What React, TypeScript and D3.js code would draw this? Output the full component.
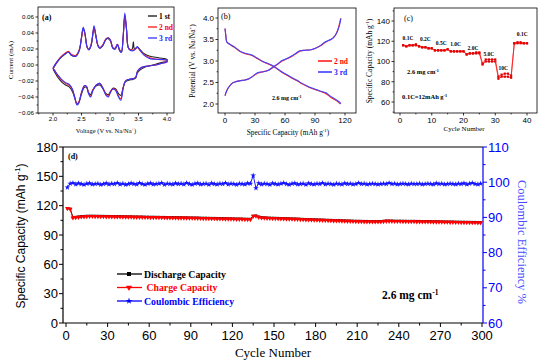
import React, { useEffect, useRef } from 'react';
import * as d3 from 'd3';

const W = 554;
const H = 362;
const SERIF = '"Liberation Serif", "Times New Roman", serif';
const SANS = '"Liberation Sans", Arial, sans-serif';

// (a) cyclic voltammetry, [voltage, current]
const cvBlue: [number, number][] = [
  [2.0, -0.004], [2.05, 0.002], [2.12, 0.008], [2.2, 0.013], [2.27, 0.016], [2.33, 0.012], [2.4, 0.011],
  [2.46, 0.018], [2.5, 0.035], [2.53, 0.047], [2.56, 0.04], [2.6, 0.022], [2.63, 0.019], [2.67, 0.025],
  [2.7, 0.04], [2.72, 0.049], [2.75, 0.038], [2.79, 0.024], [2.82, 0.021], [2.87, 0.024], [2.93, 0.032],
  [2.97, 0.034], [3.01, 0.031], [3.05, 0.021], [3.09, 0.02], [3.13, 0.026], [3.17, 0.018], [3.2, 0.016],
  [3.23, 0.035], [3.26, 0.065], [3.29, 0.045], [3.32, 0.022], [3.36, 0.018], [3.42, 0.018], [3.48, 0.023],
  [3.53, 0.018], [3.6, 0.012], [3.7, 0.008], [3.85, 0.007], [4.0, 0.006],
  [4.0, 0.004], [3.9, 0.002], [3.8, 0.0], [3.7, -0.001], [3.6, -0.002], [3.53, -0.004], [3.48, -0.008],
  [3.45, -0.016], [3.4, -0.017], [3.33, -0.018], [3.27, -0.02], [3.23, -0.03], [3.19, -0.044], [3.15, -0.04],
  [3.1, -0.032], [3.05, -0.03], [3.01, -0.034], [2.97, -0.04], [2.93, -0.038], [2.88, -0.03], [2.82, -0.023],
  [2.76, -0.025], [2.7, -0.032], [2.66, -0.04], [2.62, -0.035], [2.59, -0.027], [2.55, -0.026], [2.5, -0.035],
  [2.45, -0.048], [2.42, -0.05], [2.38, -0.04], [2.34, -0.03], [2.28, -0.024], [2.22, -0.022], [2.15, -0.018],
  [2.08, -0.012], [2.03, -0.007], [2.0, -0.004],
];
const cvRed: [number, number][] = [
  [2.0, -0.004], [2.05, 0.002], [2.12, 0.009], [2.2, 0.014], [2.27, 0.017], [2.33, 0.013], [2.4, 0.012],
  [2.46, 0.019], [2.5, 0.034], [2.53, 0.045], [2.56, 0.039], [2.6, 0.022], [2.63, 0.02], [2.67, 0.026],
  [2.7, 0.039], [2.72, 0.047], [2.75, 0.037], [2.79, 0.024], [2.82, 0.022], [2.87, 0.025], [2.93, 0.033],
  [2.97, 0.034], [3.01, 0.03], [3.05, 0.022], [3.09, 0.021], [3.13, 0.026], [3.17, 0.019], [3.2, 0.017],
  [3.23, 0.034], [3.26, 0.062], [3.29, 0.044], [3.32, 0.022], [3.36, 0.019], [3.42, 0.019], [3.48, 0.022],
  [3.53, 0.018], [3.6, 0.013], [3.7, 0.009], [3.85, 0.007], [4.0, 0.006],
  [4.0, 0.004], [3.9, 0.002], [3.8, 0.0], [3.7, -0.001], [3.6, -0.002], [3.53, -0.004], [3.48, -0.008],
  [3.45, -0.015], [3.4, -0.017], [3.33, -0.018], [3.27, -0.02], [3.23, -0.029], [3.19, -0.042], [3.15, -0.039],
  [3.1, -0.031], [3.05, -0.03], [3.01, -0.033], [2.97, -0.039], [2.93, -0.037], [2.88, -0.029], [2.82, -0.023],
  [2.76, -0.025], [2.7, -0.031], [2.66, -0.039], [2.62, -0.034], [2.59, -0.027], [2.55, -0.026], [2.5, -0.034],
  [2.45, -0.047], [2.42, -0.049], [2.38, -0.04], [2.34, -0.031], [2.28, -0.025], [2.22, -0.023], [2.15, -0.019],
  [2.08, -0.013], [2.03, -0.007], [2.0, -0.004],
];
const cvBlack: [number, number][] = [
  [2.0, -0.005], [2.05, 0.001], [2.12, 0.008], [2.2, 0.013], [2.27, 0.016], [2.33, 0.012], [2.4, 0.011],
  [2.46, 0.018], [2.5, 0.034], [2.53, 0.046], [2.56, 0.039], [2.6, 0.022], [2.63, 0.019], [2.67, 0.025],
  [2.7, 0.039], [2.72, 0.047], [2.75, 0.037], [2.79, 0.024], [2.82, 0.021], [2.87, 0.024], [2.93, 0.032],
  [2.97, 0.033], [3.01, 0.03], [3.05, 0.021], [3.09, 0.02], [3.13, 0.025], [3.17, 0.018], [3.2, 0.016],
  [3.23, 0.034], [3.26, 0.061], [3.29, 0.044], [3.32, 0.022], [3.36, 0.019], [3.39, 0.02], [3.41, 0.029],
  [3.43, 0.02], [3.48, 0.022], [3.53, 0.019], [3.6, 0.014], [3.7, 0.011], [3.85, 0.009], [4.0, 0.007],
  [4.0, 0.005], [3.9, 0.003], [3.8, 0.001], [3.7, -0.001], [3.6, -0.003], [3.53, -0.006], [3.48, -0.01],
  [3.45, -0.016], [3.4, -0.018], [3.33, -0.019], [3.27, -0.021], [3.23, -0.028], [3.19, -0.038], [3.15, -0.036],
  [3.1, -0.03], [3.05, -0.029], [3.01, -0.033], [2.97, -0.037], [2.93, -0.036], [2.88, -0.03], [2.82, -0.025],
  [2.76, -0.026], [2.7, -0.031], [2.66, -0.037], [2.62, -0.034], [2.59, -0.028], [2.55, -0.028], [2.5, -0.036],
  [2.45, -0.047], [2.42, -0.048], [2.38, -0.041], [2.34, -0.033], [2.28, -0.027], [2.22, -0.025], [2.15, -0.021],
  [2.08, -0.015], [2.03, -0.009], [2.0, -0.005],
];

// (b) charge / discharge profiles, [capacity, potential]
const b3Charge: [number, number][] = [
  [0, 2.19], [1, 2.26], [3, 2.36], [5, 2.43], [7, 2.48], [10, 2.51], [15, 2.54], [20, 2.56], [24, 2.59],
  [27, 2.63], [30, 2.69], [33, 2.73], [38, 2.75], [43, 2.78], [48, 2.86], [53, 2.94], [57, 3.01], [62, 3.06],
  [67, 3.12], [71, 3.18], [75, 3.24], [80, 3.25], [86, 3.26], [91, 3.3], [96, 3.37], [100, 3.44], [104, 3.48],
  [108, 3.53], [111, 3.62], [113, 3.72], [115, 3.88], [116, 3.99],
];
const b2Charge: [number, number][] = [
  [0, 2.2], [1, 2.27], [3, 2.37], [5, 2.43], [7, 2.48], [10, 2.51], [15, 2.54], [20, 2.56], [24, 2.59],
  [27, 2.63], [30, 2.68], [33, 2.72], [38, 2.75], [43, 2.78], [48, 2.85], [53, 2.93], [57, 3.0], [62, 3.05],
  [67, 3.11], [71, 3.17], [75, 3.23], [80, 3.25], [86, 3.26], [91, 3.3], [96, 3.36], [100, 3.43], [104, 3.48],
  [108, 3.54], [111, 3.63], [113, 3.74], [114.8, 3.9], [115.6, 3.99],
];
const b3Discharge: [number, number][] = [
  [0, 3.76], [0.8, 3.6], [1.7, 3.45], [4, 3.4], [7, 3.36], [11, 3.3], [15, 3.23], [20, 3.18], [27, 3.14],
  [32, 3.07], [38, 2.99], [45, 2.92], [50, 2.86], [56, 2.76], [62, 2.68], [67, 2.61], [72, 2.55], [77, 2.48],
  [82, 2.42], [87, 2.37], [92, 2.33], [97, 2.29], [101, 2.26], [105, 2.19], [109, 2.13], [113, 2.07], [116, 2.01],
];
const b2Discharge: [number, number][] = [
  [0, 3.75], [0.8, 3.6], [1.7, 3.45], [4, 3.4], [7, 3.35], [11, 3.29], [15, 3.22], [20, 3.17], [27, 3.13],
  [32, 3.06], [38, 2.98], [45, 2.91], [50, 2.85], [56, 2.75], [62, 2.67], [67, 2.6], [72, 2.54], [77, 2.47],
  [82, 2.41], [87, 2.36], [92, 2.32], [97, 2.28], [101, 2.24], [105, 2.17], [109, 2.11], [113, 2.05], [115.6, 2.0],
];

// (c) rate capability, cycles 1..40
const rateCycles = d3.range(1, 41);
const rateUpper = [
  116, 115, 116, 116, 117, 115, 114, 114, 113, 113,
  111, 111, 111, 111, 112, 110, 110, 110, 110, 110,
  107, 108, 108, 109, 109, 98, 102, 102, 102, 102,
  85, 87, 88, 88, 86, 118, 119, 119, 118, 118,
];
const rateLower = [
  116, 115, 116, 116, 116, 115, 114, 114, 113, 113,
  111, 111, 111, 111, 112, 110, 110, 110, 110, 110,
  107, 108, 108, 108, 108, 97, 100, 100, 100, 100,
  83, 85, 85, 85, 84, 118, 118, 118, 118, 118,
];
const rateLabels = ['0.1C', '0.2C', '0.5C', '1.0C', '2.0C', '5.0C', '10C', '0.1C'];
const rateLabelPos: [number, number][] = [
  [2.5, 121], [8, 120.5], [13, 116.5], [17.5, 115], [23, 111.5], [28, 105], [32.5, 92], [38.5, 125],
];

// (d) long cycling, every other cycle 1..299
const longCycles = d3.range(1, 300, 2);
const chargeCap = [
  117.2, 116.5, 107.6, 108.0, 108.3, 108.6, 108.8, 109.0, 109.1, 109.1,
  109.0, 109.0, 108.9, 108.9, 108.8, 108.8, 108.7, 108.7, 108.6, 108.6,
  108.5, 108.5, 108.4, 108.4, 108.3, 108.3, 108.2, 108.2, 108.1, 108.1,
  108.0, 108.0, 107.9, 107.9, 107.8, 107.8, 107.7, 107.7, 107.6, 107.6,
  107.5, 107.5, 107.4, 107.4, 107.3, 107.3, 107.2, 107.2, 107.1, 107.0,
  107.0, 106.9, 106.8, 106.8, 106.7, 106.6, 106.6, 106.5, 106.4, 106.4,
  106.3, 106.2, 106.2, 106.1, 106.0, 106.0, 105.9, 109.2, 109.4, 108.2,
  107.6, 107.4, 107.2, 107.1, 107.0, 106.9, 106.8, 106.7, 106.6, 106.5,
  106.4, 106.3, 106.2, 106.1, 106.0, 105.8, 105.7, 105.6, 105.5, 105.4,
  105.3, 105.2, 105.1, 105.0, 104.9, 104.8, 104.7, 104.6, 104.5, 104.4,
  104.3, 104.2, 104.1, 104.0, 103.9, 103.9, 103.8, 103.7, 103.7, 103.6,
  103.6, 103.5, 103.5, 103.6, 103.9, 104.2, 104.1, 104.1, 104.0, 104.0,
  104.0, 103.9, 103.9, 103.8, 103.8, 103.8, 103.7, 103.7, 103.6, 103.6,
  103.5, 103.5, 103.4, 103.4, 103.3, 103.3, 103.2, 103.2, 103.1, 103.1,
  103.0, 103.0, 102.9, 102.9, 102.8, 102.8, 102.7, 102.7, 102.6, 102.6,
];
const dischargeCap = [
  117.4, 116.8, 108.0, 108.4, 108.8, 109.1, 109.3, 109.5, 109.6, 109.6,
  109.5, 109.5, 109.4, 109.4, 109.3, 109.3, 109.2, 109.2, 109.1, 109.1,
  109.0, 109.0, 108.9, 108.9, 108.8, 108.8, 108.7, 108.7, 108.6, 108.6,
  108.5, 108.5, 108.4, 108.4, 108.3, 108.3, 108.2, 108.2, 108.1, 108.1,
  108.0, 108.0, 107.9, 107.9, 107.8, 107.8, 107.7, 107.7, 107.6, 107.5,
  107.5, 107.4, 107.3, 107.3, 107.2, 107.1, 107.1, 107.0, 106.9, 106.9,
  106.8, 106.7, 106.7, 106.6, 106.5, 106.5, 106.4, 109.5, 109.8, 108.7,
  108.1, 107.9, 107.7, 107.6, 107.5, 107.4, 107.3, 107.2, 107.1, 107.0,
  106.9, 106.8, 106.7, 106.6, 106.5, 106.3, 106.2, 106.1, 106.0, 105.9,
  105.8, 105.7, 105.6, 105.5, 105.4, 105.3, 105.2, 105.1, 105.0, 104.9,
  104.8, 104.7, 104.6, 104.5, 104.4, 104.4, 104.3, 104.2, 104.2, 104.1,
  104.1, 104.0, 104.0, 104.1, 104.4, 104.7, 104.6, 104.6, 104.5, 104.5,
  104.5, 104.4, 104.4, 104.3, 104.3, 104.3, 104.2, 104.2, 104.1, 104.1,
  104.0, 104.0, 103.9, 103.9, 103.8, 103.8, 103.7, 103.7, 103.6, 103.6,
  103.5, 103.5, 103.4, 103.4, 103.3, 103.3, 103.2, 103.2, 103.1, 103.1,
];
const coulombic = [
  98.5, 99.6, 99.8, 99.4, 99.7, 99.5, 99.3, 99.6, 99.7, 99.4,
  99.5, 99.6, 99.3, 99.5, 99.7, 99.4, 99.6, 99.5, 99.8, 99.4,
  99.6, 99.3, 99.5, 99.7, 99.5, 99.4, 99.8, 99.5, 99.3, 99.6,
  99.7, 99.4, 99.5, 99.6, 99.8, 99.3, 99.6, 99.5, 99.4, 99.7,
  99.5, 99.6, 99.4, 99.8, 99.5, 99.3, 99.6, 99.7, 99.4, 99.5,
  99.6, 99.3, 99.7, 99.5, 99.4, 99.6, 99.5, 99.8, 99.4, 99.6,
  99.5, 99.3, 99.6, 99.5, 99.4, 99.7, 99.6, 101.9, 98.3, 99.7,
  99.4, 99.6, 99.5, 99.3, 99.7, 99.5, 99.4, 99.6, 99.8, 99.5,
  99.3, 99.6, 99.7, 99.4, 99.5, 99.6, 99.3, 99.7, 99.5, 99.4,
  99.6, 99.5, 99.8, 99.4, 99.6, 99.5, 99.3, 99.6, 99.5, 99.4,
  99.7, 99.5, 99.6, 99.4, 99.5, 99.8, 99.5, 99.6, 99.4, 99.5,
  99.6, 99.5, 99.4, 99.5, 99.6, 99.5, 99.8, 99.5, 99.6, 99.4,
  99.5, 99.6, 99.5, 99.4, 99.6, 99.5, 99.5, 99.6, 99.4, 99.5,
  99.6, 99.5, 99.4, 99.7, 99.5, 99.6, 99.4, 99.5, 99.6, 99.5,
  99.4, 99.6, 99.5, 99.7, 99.4, 99.6, 99.8, 99.5, 99.4, 99.6,
];

type Seg = string | [string];
type G = d3.Selection<SVGGElement, unknown, null, undefined>;

function text(g: G, x: number, y: number, segs: Seg[], o: { size: number; family?: string; weight?: string; fill?: string; anchor?: string; rotate?: number }) {
  const t = g
    .append('text')
    .attr('transform', `translate(${x},${y})${o.rotate ? ` rotate(${o.rotate})` : ''}`)
    .attr('font-size', o.size)
    .attr('font-family', o.family || SERIF)
    .attr('font-weight', o.weight || 'normal')
    .attr('fill', o.fill || '#000')
    .attr('text-anchor', o.anchor || 'start')
    .style('white-space', 'pre');
  let up = false;
  segs.forEach(s => {
    if (typeof s === 'string') {
      t.append('tspan').attr('dy', up ? o.size * 0.38 : 0).text(s);
      up = false;
    } else {
      t.append('tspan').attr('dy', -o.size * 0.38).attr('font-size', o.size * 0.65).text(s[0]);
      up = true;
    }
  });
  return t;
}

function frameAxes(
  g: G,
  x: d3.ScaleLinear<number, number>,
  y: d3.ScaleLinear<number, number>,
  box: [number, number, number, number],
  o: { xT: number[]; xM: number[]; yT: number[]; yM: number[]; xF: (v: number) => string; yF: (v: number) => string; fs: number; len: number; sw: number }
) {
  const [l, r, t, b] = box;
  g.append('rect').attr('x', l).attr('y', t).attr('width', r - l).attr('height', b - t)
    .attr('fill', 'none').attr('stroke', '#000').attr('stroke-width', o.sw);
  o.xT.forEach(v => {
    g.append('line').attr('x1', x(v)).attr('x2', x(v)).attr('y1', b).attr('y2', b + o.len).attr('stroke', '#000').attr('stroke-width', o.sw);
    text(g, x(v), b + o.len + o.fs * 0.95, [o.xF(v)], { size: o.fs, family: SANS, anchor: 'middle' });
  });
  o.xM.forEach(v => {
    g.append('line').attr('x1', x(v)).attr('x2', x(v)).attr('y1', b).attr('y2', b + o.len * 0.55).attr('stroke', '#000').attr('stroke-width', o.sw);
  });
  o.yT.forEach(v => {
    g.append('line').attr('x1', l).attr('x2', l - o.len).attr('y1', y(v)).attr('y2', y(v)).attr('stroke', '#000').attr('stroke-width', o.sw);
    text(g, l - o.len - 1.5, y(v) + o.fs * 0.35, [o.yF(v)], { size: o.fs, family: SANS, anchor: 'end' });
  });
  o.yM.forEach(v => {
    g.append('line').attr('x1', l).attr('x2', l - o.len * 0.55).attr('y1', y(v)).attr('y2', y(v)).attr('stroke', '#000').attr('stroke-width', o.sw);
  });
}

const App: React.FC = () => {
  const ref = useRef<SVGSVGElement>(null);

  useEffect(() => {
    if (!ref.current) return;
    const svg = d3.select(ref.current);
    svg.selectAll('*').remove();
    const root = svg.append('g') as unknown as G;

    // ---------- (a) ----------
    const ga = root.append('g') as G;
    const xA = d3.scaleLinear().domain([2, 4]).range([53, 167]);
    const yA = d3.scaleLinear().domain([-0.06, 0.06]).range([113, 17]);
    frameAxes(ga, xA, yA, [38, 174, 7, 113], {
      xT: [2, 2.5, 3, 3.5, 4], xM: [1.75, 2.25, 2.75, 3.25, 3.75], yT: d3.range(-0.06, 0.061, 0.02),
      yM: d3.range(-0.05, 0.06, 0.02), xF: d3.format('.1f'), yF: v => d3.format('.2f')(Math.abs(v) < 1e-9 ? 0 : v),
      fs: 6.2, len: 2.5, sw: 0.8,
    });
    const lineA = d3.line<[number, number]>().x(d => xA(d[0])).y(d => yA(d[1])).curve(d3.curveCatmullRom.alpha(0.5));
    [[cvBlack, '#222'], [cvRed, '#ff2020'], [cvBlue, '#3333ff']].forEach(([data, c]) => {
      ga.append('path').datum(data as [number, number][]).attr('d', lineA).attr('fill', 'none')
        .attr('stroke', c as string).attr('stroke-width', 1.1);
    });
    [['1 st', '#000'], ['2 nd', '#ff0000'], ['3 rd', '#2222ff']].forEach(([s, c], i) => {
      const yy = 16 + i * 11;
      ga.append('line').attr('x1', 148).attr('x2', 157).attr('y1', yy).attr('y2', yy).attr('stroke', c).attr('stroke-width', 1.2);
      text(ga, 159, yy + 2.6, [s], { size: 7.5, weight: 'bold', fill: c });
    });
    text(ga, 42, 20, ['(a)'], { size: 8, weight: 'bold' });
    text(ga, 13, 60, ['Current (mA)'], { size: 7, rotate: -90, anchor: 'middle' });
    text(ga, 106, 133, ['Voltage (V vs. Na/Na', ['+'], ')'], { size: 6.5, anchor: 'middle' });

    // ---------- (b) ----------
    const gb = root.append('g') as G;
    const xB = d3.scaleLinear().domain([0, 120]).range([225, 345]);
    const yB = d3.scaleLinear().domain([2, 4]).range([104, 18]);
    frameAxes(gb, xB, yB, [218, 356, 8, 113], {
      xT: [0, 30, 60, 90, 120], xM: [15, 45, 75, 105], yT: [2, 2.5, 3, 3.5, 4], yM: [2.25, 2.75, 3.25, 3.75],
      xF: d3.format('d'), yF: d3.format('.1f'), fs: 8, len: 2.5, sw: 0.8,
    });
    const lineB = d3.line<[number, number]>().x(d => xB(d[0])).y(d => yB(d[1])).curve(d3.curveMonotoneX);
    const lineBd = d3.line<[number, number]>().x(d => xB(d[0])).y(d => yB(d[1])).curve(d3.curveCatmullRom.alpha(0.5));
    gb.append('path').datum(b2Charge).attr('d', lineB).attr('fill', 'none').attr('stroke', '#ff2020').attr('stroke-width', 1.1);
    gb.append('path').datum(b2Discharge).attr('d', lineBd).attr('fill', 'none').attr('stroke', '#ff2020').attr('stroke-width', 1.1);
    gb.append('path').datum(b3Charge).attr('d', lineB).attr('fill', 'none').attr('stroke', '#4444ff').attr('stroke-width', 1.1);
    gb.append('path').datum(b3Discharge).attr('d', lineBd).attr('fill', 'none').attr('stroke', '#4444ff').attr('stroke-width', 1.1);
    [['2 nd', '#ff0000'], ['3 rd', '#2222ff']].forEach(([s, c], i) => {
      const yy = 61 + i * 11;
      gb.append('line').attr('x1', 318).attr('x2', 332).attr('y1', yy).attr('y2', yy).attr('stroke', c).attr('stroke-width', 1.4);
      text(gb, 334, yy + 2.6, [s], { size: 7.5, weight: 'bold', fill: c });
    });
    text(gb, 221, 19, ['(b)'], { size: 8 });
    text(gb, 272, 100, ['2.6 mg cm', ['-1']], { size: 6, weight: 'bold' });
    text(gb, 195, 61, ['Potential (V vs. Na/Na', ['+'], ')'], { size: 7.5, rotate: -90, anchor: 'middle' });
    text(gb, 288, 135, ['Specific Capacity (mAh g', ['-1'], ')'], { size: 7.3, anchor: 'middle' });

    // ---------- (c) ----------
    const gc = root.append('g') as G;
    const xC = d3.scaleLinear().domain([0, 40]).range([400, 527]);
    const yC = d3.scaleLinear().domain([60, 140]).range([102, 21]);
    frameAxes(gc, xC, yC, [394, 537, 8, 113], {
      xT: [0, 10, 20, 30, 40], xM: [5, 15, 25, 35], yT: [60, 80, 100, 120, 140], yM: [50, 70, 90, 110, 130, 150],
      xF: d3.format('d'), yF: d3.format('d'), fs: 8, len: 2.5, sw: 0.8,
    });
    const lineC = d3.line<number>().x((_, i) => xC(rateCycles[i])).y(d => yC(d));
    [rateLower, rateUpper].forEach(arr => {
      gc.append('path').datum(arr).attr('d', lineC).attr('fill', 'none').attr('stroke', '#ff1a1a').attr('stroke-width', 0.8);
      gc.selectAll(null).data(arr).enter().append('rect')
        .attr('x', (_, i) => xC(rateCycles[i]) - 1.1).attr('y', d => yC(d) - 1.1)
        .attr('width', 2.2).attr('height', 2.2).attr('fill', '#e00000');
    });
    rateLabels.forEach((s, i) => {
      text(gc, xC(rateLabelPos[i][0]), yC(rateLabelPos[i][1]), [s], { size: 5.5, weight: 'bold', anchor: 'middle' });
    });
    text(gc, 404, 21, ['(c)'], { size: 8 });
    text(gc, 407, 74, ['2.6 mg cm', ['-1']], { size: 6.5, weight: 'bold' });
    text(gc, 402, 99, ['0.1C=12mAh g', ['-1']], { size: 6.5, weight: 'bold' });
    text(gc, 372, 61, ['Specific Capacity (mAh g', ['-1'], ')'], { size: 7.5, rotate: -90, anchor: 'middle' });
    text(gc, 464, 131, ['Cycle Number'], { size: 7, anchor: 'middle' });

    // ---------- (d) ----------
    const gd = root.append('g') as G;
    const xD = d3.scaleLinear().domain([0, 300]).range([66, 482]);
    const yDL = d3.scaleLinear().domain([0, 180]).range([323, 147]);
    const yDR = d3.scaleLinear().domain([60, 110]).range([323, 147]);
    const [l, r, t, b] = [63, 483, 147, 323];
    gd.append('line').attr('x1', l).attr('x2', r).attr('y1', t).attr('y2', t).attr('stroke', '#000').attr('stroke-width', 1.2);
    gd.append('line').attr('x1', l).attr('x2', r).attr('y1', b).attr('y2', b).attr('stroke', '#000').attr('stroke-width', 1.2);
    gd.append('line').attr('x1', l).attr('x2', l).attr('y1', t).attr('y2', b).attr('stroke', '#000').attr('stroke-width', 1.2);
    gd.append('line').attr('x1', r).attr('x2', r).attr('y1', t).attr('y2', b).attr('stroke', '#0000ff').attr('stroke-width', 1.2);
    d3.range(0, 301, 30).forEach(v => {
      gd.append('line').attr('x1', xD(v)).attr('x2', xD(v)).attr('y1', b).attr('y2', b + 4).attr('stroke', '#000');
      text(gd, xD(v), 340, [String(v)], { size: 13, family: SANS, anchor: 'middle' });
    });
    d3.range(15, 300, 30).forEach(v => {
      gd.append('line').attr('x1', xD(v)).attr('x2', xD(v)).attr('y1', b).attr('y2', b + 2.5).attr('stroke', '#000');
    });
    d3.range(0, 181, 30).forEach(v => {
      gd.append('line').attr('x1', l).attr('x2', l - 4).attr('y1', yDL(v)).attr('y2', yDL(v)).attr('stroke', '#000');
      text(gd, 58, yDL(v) + 4.6, [String(v)], { size: 13, family: SANS, anchor: 'end' });
    });
    d3.range(15, 180, 30).forEach(v => {
      gd.append('line').attr('x1', l).attr('x2', l - 2.5).attr('y1', yDL(v)).attr('y2', yDL(v)).attr('stroke', '#000');
    });
    d3.range(60, 111, 10).forEach(v => {
      gd.append('line').attr('x1', r).attr('x2', r + 4).attr('y1', yDR(v)).attr('y2', yDR(v)).attr('stroke', '#0000ff');
      text(gd, 488, yDR(v) + 4.6, [String(v)], { size: 13, family: SANS, fill: '#0000ff' });
    });
    d3.range(65, 110, 10).forEach(v => {
      gd.append('line').attr('x1', r).attr('x2', r + 2.5).attr('y1', yDR(v)).attr('y2', yDR(v)).attr('stroke', '#0000ff');
    });

    const lineDL = d3.line<number>().x((_, i) => xD(longCycles[i])).y(d => yDL(d));
    const lineDR = d3.line<number>().x((_, i) => xD(longCycles[i])).y(d => yDR(d));
    gd.append('path').datum(dischargeCap).attr('d', lineDL).attr('fill', 'none').attr('stroke', '#000').attr('stroke-width', 1);
    gd.selectAll(null).data(dischargeCap).enter().append('rect')
      .attr('x', (_, i) => xD(longCycles[i]) - 1.2).attr('y', d => yDL(d) - 1.2).attr('width', 2.4).attr('height', 2.4).attr('fill', '#000');
    gd.append('path').datum(chargeCap).attr('d', lineDL).attr('fill', 'none').attr('stroke', '#ff0000').attr('stroke-width', 1);
    const tri = d3.symbol().type(d3.symbolTriangle).size(10)();
    gd.selectAll(null).data(chargeCap).enter().append('path').attr('d', tri)
      .attr('transform', (d, i) => `translate(${xD(longCycles[i])},${yDL(d)}) rotate(180)`).attr('fill', '#ff0000');
    gd.append('path').datum(coulombic).attr('d', lineDR).attr('fill', 'none').attr('stroke', '#2020ff').attr('stroke-width', 1);
    const star = d3.symbol().type(d3.symbolStar).size(10)();
    gd.selectAll(null).data(coulombic).enter().append('path').attr('d', star)
      .attr('transform', (d, i) => `translate(${xD(longCycles[i])},${yDR(d)})`).attr('fill', '#1515ff');

    // legend
    const legend: [string, string, string][] = [
      ['Discharge Capacity', '#000', 'sq'],
      [' Charge Capacity', '#ff0000', 'tri'],
      ['Coulombic Efficiency', '#0000ff', 'star'],
    ];
    legend.forEach(([s, c, m], i) => {
      const yy = 274 + i * 13.5;
      gd.append('line').attr('x1', 117).attr('x2', 142).attr('y1', yy).attr('y2', yy).attr('stroke', c).attr('stroke-width', 1.3);
      if (m === 'sq') gd.append('rect').attr('x', 127).attr('y', yy - 2).attr('width', 4).attr('height', 4).attr('fill', c);
      if (m === 'tri') gd.append('path').attr('d', d3.symbol().type(d3.symbolTriangle).size(16)()).attr('transform', `translate(129,${yy}) rotate(180)`).attr('fill', c);
      if (m === 'star') gd.append('path').attr('d', d3.symbol().type(d3.symbolStar).size(14)()).attr('transform', `translate(129,${yy})`).attr('fill', c);
      text(gd, 144, yy + 3.5, [s], { size: 9.8, weight: 'bold', fill: c });
    });
    text(gd, 68, 159, ['(d)'], { size: 8, weight: 'bold' });
    text(gd, 382, 299, ['2.6 mg cm', ['-1']], { size: 11.5, weight: 'bold' });
    text(gd, 25, 236, ['Specific Capacity (mAh g', ['-1'], ')'], { size: 12, family: SANS, rotate: -90, anchor: 'middle' });
    text(gd, 273, 357, ['Cycle Number'], { size: 13, anchor: 'middle' });
    text(gd, 518, 242, ['Coulombic Efficiency %'], { size: 12.5, rotate: 90, anchor: 'middle', fill: '#4a4aff' });
  }, []);

  return (
    <svg
      ref={ref}
      width={W}
      height={H}
      style={{ position: 'absolute', left: 0, top: 0, background: '#fff' }}
    />
  );
};

export default App;
